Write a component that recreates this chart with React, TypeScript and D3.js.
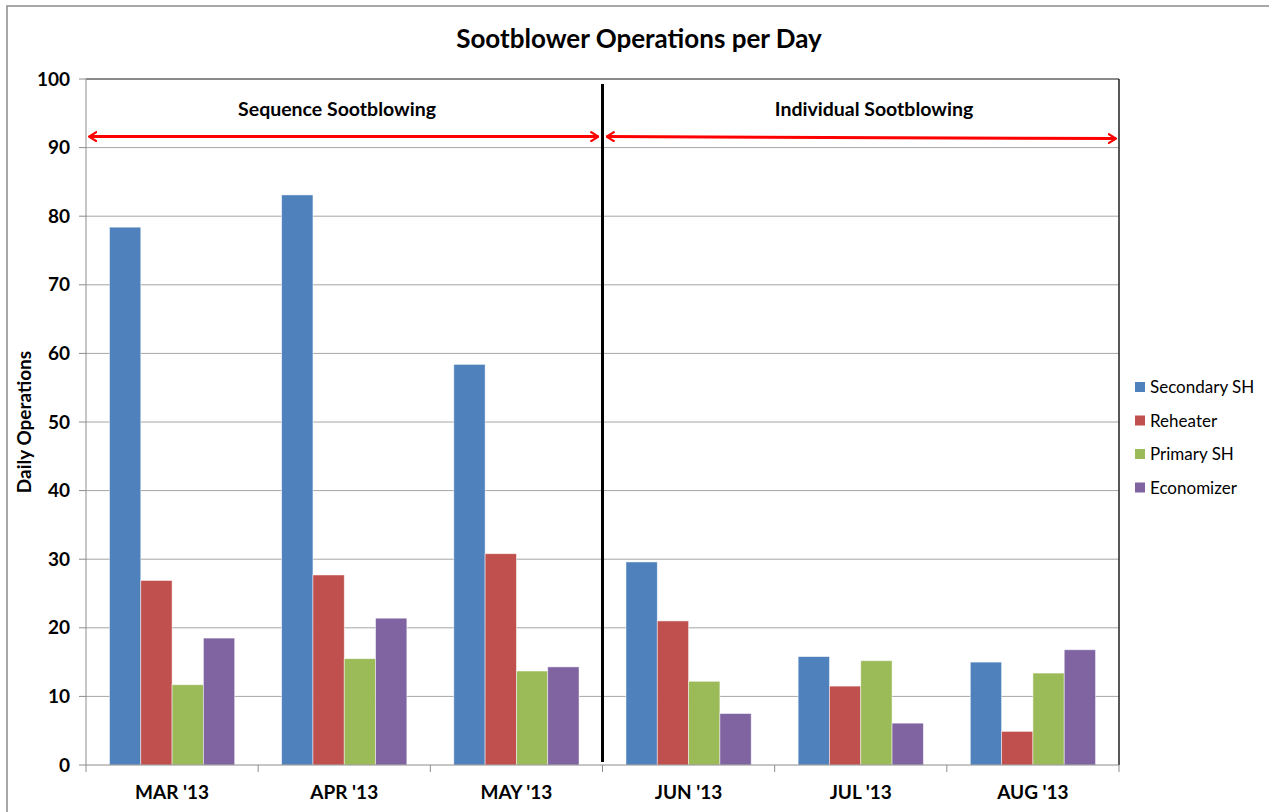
import React from "react";
import * as d3 from "d3";

const months = ["MAR '13", "APR '13", "MAY '13", "JUN '13", "JUL '13", "AUG '13"];
const seriesNames = ["Secondary SH", "Reheater", "Primary SH", "Economizer"];
const seriesColors = ["#4F81BD", "#C0504D", "#9BBB59", "#8064A2"];
const secondarySH = [78.4, 83.1, 58.4, 29.6, 15.8, 15.0];
const reheater = [26.9, 27.7, 30.8, 21.0, 11.5, 4.9];
const primarySH = [11.7, 15.5, 13.7, 12.2, 15.2, 13.4];
const economizer = [18.5, 21.4, 14.3, 7.5, 6.1, 16.8];
const yTicks = [0, 10, 20, 30, 40, 50, 60, 70, 80, 90, 100];

const W = 1269;
const H = 812;
const margin = { left: 86, top: 79, right: 1119, bottom: 765 };
const FONT = "Lato, 'Open Sans', sans-serif";

const App: React.FC = () => {
  const series = [secondarySH, reheater, primarySH, economizer];

  const x = d3.scaleBand<string>().domain(months).range([margin.left, margin.right]);
  // excel gap width ~150%: group takes 4 / 5.5 of the band
  const inner = d3
    .scaleBand<string>()
    .domain(seriesNames)
    .range([0, (x.bandwidth() * 4) / 5.5]);
  const groupOffset = (x.bandwidth() - inner.range()[1]) / 2;
  const y = d3.scaleLinear().domain([0, 100]).range([margin.bottom, margin.top]);

  const divX = x("JUN '13")!;
  const arrowY = y(91.6);

  return (
    <svg width={W} height={H} style={{ position: "absolute", left: 0, top: 0, background: "#fff" }}>
      <defs>
        <marker id="arr" viewBox="0 -6 10 12" refX="9" refY="0" markerWidth="9" markerHeight="11" markerUnits="userSpaceOnUse" orient="auto-start-reverse">
          <path d="M0,-5.5L9,0L0,5.5" fill="none" stroke="#FF0000" strokeWidth={2.4} />
        </marker>
      </defs>
      {/* outer chart frame */}
      <rect x={7} y={6} width={W + 10} height={H + 10} fill="#fff" stroke="#8c8c8c" strokeWidth={1.5} />

      <text x={639} y={48} textAnchor="middle" fontFamily={FONT} fontWeight="bold" fontSize={26} fill="#000">
        Sootblower Operations per Day
      </text>

      {/* gridlines */}
      {yTicks.slice(1).map((t) => (
        <line key={t} x1={margin.left} x2={margin.right} y1={y(t)} y2={y(t)} stroke="#a6a6a6" strokeWidth={1} />
      ))}
      {/* plot border */}
      <line x1={margin.left} x2={margin.right} y1={margin.top} y2={margin.top} stroke="#404040" strokeWidth={1} />
      <line x1={margin.right} x2={margin.right} y1={margin.top} y2={margin.bottom} stroke="#202020" strokeWidth={1.5} />

      {/* bars */}
      {series.map((vals, si) =>
        vals.map((v, i) => (
          <rect
            key={`${si}-${i}`}
            x={x(months[i])! + groupOffset + inner(seriesNames[si])!}
            y={y(v)}
            width={inner.bandwidth()}
            height={y(0) - y(v)}
            fill={seriesColors[si]}
            stroke="#ffffff"
            strokeOpacity={0.6}
            strokeWidth={0.8}
          />
        ))
      )}

      {/* y axis */}
      <line x1={margin.left} x2={margin.left} y1={margin.top} y2={margin.bottom} stroke="#8c8c8c" strokeWidth={1} />
      {yTicks.map((t) => (
        <g key={t}>
          <line x1={margin.left - 7} x2={margin.left} y1={y(t)} y2={y(t)} stroke="#8c8c8c" />
          <text x={70} y={y(t) + 6.5} textAnchor="end" fontFamily={FONT} fontWeight="bold" fontSize={19} fill="#000">
            {t}
          </text>
        </g>
      ))}
      <text
        transform={`translate(31,${y(50)}) rotate(-90)`}
        textAnchor="middle"
        fontFamily={FONT}
        fontWeight="bold"
        fontSize={19}
        fill="#000"
      >
        Daily Operations
      </text>

      {/* x axis */}
      <line x1={margin.left} x2={margin.right} y1={margin.bottom} y2={margin.bottom} stroke="#8c8c8c" />
      {months.map((m, i) => (
        <g key={m}>
          <line x1={x(m)!} x2={x(m)!} y1={margin.bottom} y2={margin.bottom + 7} stroke="#8c8c8c" />
          {i === months.length - 1 && (
            <line x1={margin.right} x2={margin.right} y1={margin.bottom} y2={margin.bottom + 7} stroke="#8c8c8c" />
          )}
          <text x={x(m)! + x.bandwidth() / 2} y={799} textAnchor="middle" fontFamily={FONT} fontWeight="bold" fontSize={19} fill="#000">
            {m}
          </text>
        </g>
      ))}

      {/* divider and annotations */}
      <line x1={divX} x2={divX} y1={84} y2={762} stroke="#000" strokeWidth={3} />
      <line x1={margin.left + 3} x2={divX - 4} y1={arrowY} y2={arrowY} stroke="#FF0000" strokeWidth={3} markerStart="url(#arr)" markerEnd="url(#arr)" />
      <line x1={divX + 4} x2={margin.right - 3} y1={arrowY} y2={arrowY + 2} stroke="#FF0000" strokeWidth={3} markerStart="url(#arr)" markerEnd="url(#arr)" />
      <text x={337} y={116} textAnchor="middle" fontFamily={FONT} fontWeight="bold" fontSize={19.5} fill="#000">
        Sequence Sootblowing
      </text>
      <text x={874} y={116} textAnchor="middle" fontFamily={FONT} fontWeight="bold" fontSize={19.5} fill="#000">
        Individual Sootblowing
      </text>

      {/* legend */}
      {seriesNames.map((s, i) => (
        <g key={s} transform={`translate(1135,${387 + i * 33.5})`}>
          <rect x={0} y={-5} width={10} height={10} fill={seriesColors[i]} />
          <text x={15} y={6} fontFamily={FONT} fontSize={17} fill="#000">
            {s}
          </text>
        </g>
      ))}
    </svg>
  );
};

export default App;
